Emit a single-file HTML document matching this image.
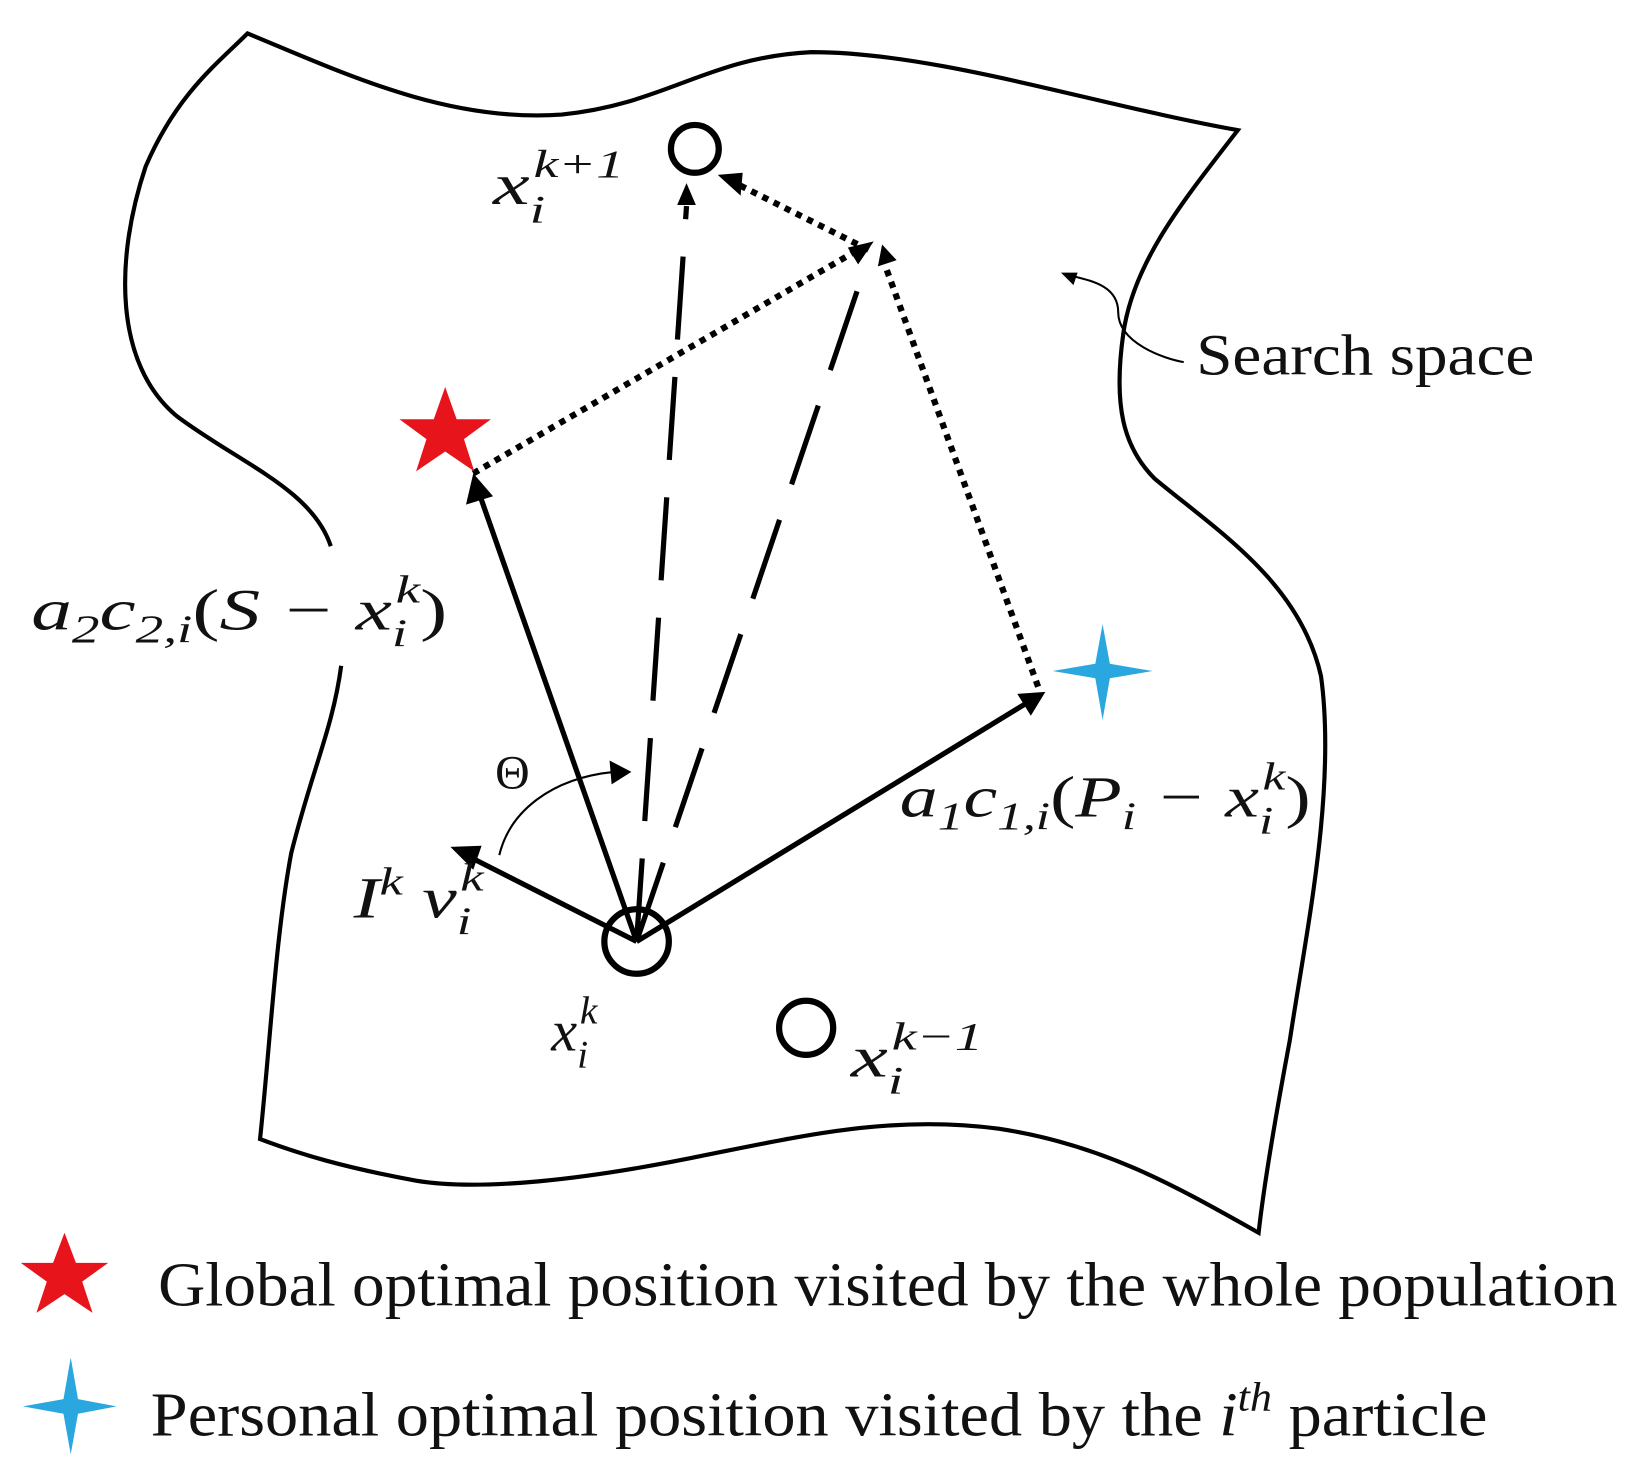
<!DOCTYPE html>
<html><head><meta charset="utf-8"><style>
html,body{margin:0;padding:0;background:#fff;}
svg{display:block;}
text{font-family:"Liberation Serif",serif;fill:#111;}
.m{font-style:italic;font-size:56px;}
.s{font-size:38px;}
</style></head><body>
<svg width="1631" height="1470" viewBox="0 0 1568 1413" xmlns="http://www.w3.org/2000/svg">
<g fill="none" stroke="#000" stroke-width="4">
<path d="M318,525 C300,470 230,445 170,400 C110,350 110,250 140,160 C170,90 210,60 238,32 C330,70 430,118 540,110 C640,100 680,55 780,50 C900,50 1050,100 1190,125 C1140,190 1090,250 1080,320 C1070,390 1080,430 1110,460 C1170,510 1250,560 1270,650 C1285,760 1255,900 1240,1000 C1225,1080 1215,1140 1210,1185 C1130,1140 1060,1100 960,1085 C860,1072 780,1090 680,1110 C560,1135 460,1145 400,1135 C330,1122 290,1110 250,1095 C260,1000 265,900 280,820 C300,740 320,700 328,640"/>
<circle cx="668" cy="143" r="23" stroke-width="6"/>
<circle cx="612" cy="905" r="31" stroke-width="6"/>
<circle cx="775" cy="988" r="26" stroke-width="6"/>
<line x1="612" y1="905" x2="462" y2="478" stroke-width="5"/>
<line x1="612" y1="905" x2="985" y2="677" stroke-width="5"/>
<line x1="612" y1="905" x2="452" y2="824" stroke-width="5"/>
<line x1="612" y1="905" x2="660" y2="198" stroke-width="5" stroke-dasharray="80,36"/>
<line x1="612" y1="905" x2="830" y2="262" stroke-width="5" stroke-dasharray="80,36"/>
<line x1="455" y1="455" x2="825" y2="240" stroke-width="6" stroke-dasharray="6,6"/>
<line x1="998" y1="660" x2="852" y2="258" stroke-width="6" stroke-dasharray="6,6"/>
<line x1="835" y1="240" x2="705" y2="175" stroke-width="6" stroke-dasharray="6,6"/>
<path d="M480,822 C490,780 530,748 590,742" stroke-width="2"/>
<path d="M1138,348 C1120,345 1075,330 1075,300 C1075,275 1050,270 1030,265" stroke-width="2"/>
</g>
<g fill="#000">
<polygon points="455,455 448,485 474,477"/>
<polygon points="1005,665 978,667 991,688"/>
<polygon points="433,814 455,836 463,813"/>
<polygon points="660,176 651,197 669,197"/>
<polygon points="690,168 712,188 714,166"/>
<polygon points="840,232 815,238 825,254"/>
<polygon points="848,235 844,256 862,250"/>
<polygon points="607,742 586,731 588,754"/>
<polygon points="1020,262 1036,262 1032,274"/>
</g>
<polygon fill="#e8141c" points="428,372 439,403 472,403 446,422 456,453 428,434 400,453 410,422 384,403 417,403"/>
<polygon fill="#2aa7df" points="1060,600 1067,638 1108,645 1067,652 1060,692 1053,652 1012,645 1053,638"/>
<polygon fill="#e8141c" points="62,1185 73,1214 104,1214 79,1232 89,1262 62,1244 35,1262 45,1232 20,1214 51,1214"/>
<polygon fill="#2aa7df" points="68,1305 75,1345 112,1352 75,1359 68,1398 61,1359 22,1352 61,1345"/>
<text class="m" x="474" y="196" textLength="126" lengthAdjust="spacingAndGlyphs">x<tspan class="s" dy="18">i</tspan><tspan class="s" dx="-8" dy="-44">k+1</tspan></text>
<text class="m" x="30" y="605" textLength="400" lengthAdjust="spacingAndGlyphs">a<tspan class="s" dy="12">2</tspan><tspan dy="-12">c</tspan><tspan class="s" dy="12">2,i</tspan><tspan dy="-12" font-style="normal">(</tspan>S − x<tspan class="s" dy="16">i</tspan><tspan class="s" dx="-8" dy="-42">k</tspan><tspan dy="26" font-style="normal">)</tspan></text>
<text class="m" x="865" y="785" textLength="395" lengthAdjust="spacingAndGlyphs">a<tspan class="s" dy="12">1</tspan><tspan dy="-12">c</tspan><tspan class="s" dy="12">1,i</tspan><tspan dy="-12" font-style="normal">(</tspan>P<tspan class="s" dy="12">i</tspan><tspan dy="-12"> − x</tspan><tspan class="s" dy="16">i</tspan><tspan class="s" dx="-8" dy="-42">k</tspan><tspan dy="26" font-style="normal">)</tspan></text>
<text x="476" y="758" font-size="46">Θ</text>
<text class="m" x="340" y="882" textLength="125" lengthAdjust="spacingAndGlyphs">I<tspan class="s" dy="-22">k</tspan><tspan dy="22"> v</tspan><tspan class="s" dy="16">i</tspan><tspan class="s" dx="-8" dy="-42">k</tspan></text>
<text class="m" x="530" y="1010">x<tspan class="s" dy="16">i</tspan><tspan class="s" dx="-8" dy="-42">k</tspan></text>
<text class="m" x="818" y="1035" textLength="127" lengthAdjust="spacingAndGlyphs">x<tspan class="s" dy="16">i</tspan><tspan class="s" dx="-8" dy="-42">k−1</tspan></text>
<text x="1150" y="360" font-size="56" textLength="325" lengthAdjust="spacingAndGlyphs">Search space</text>
<text x="152" y="1255" font-size="60" textLength="1403" lengthAdjust="spacingAndGlyphs">Global optimal position visited by the whole population</text>
<text x="145" y="1380" font-size="60" textLength="1285" lengthAdjust="spacingAndGlyphs">Personal optimal position visited by the <tspan font-style="italic">i</tspan><tspan font-style="italic" font-size="40" dy="-24">th</tspan><tspan dy="24"> particle</tspan></text>
</svg>
</body></html>
